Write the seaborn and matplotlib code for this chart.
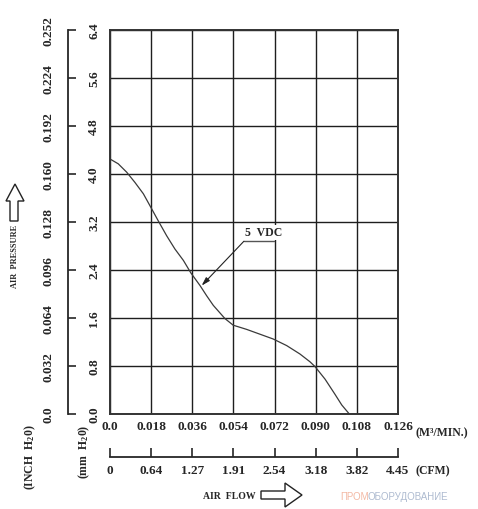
import matplotlib
matplotlib.use("Agg")
import matplotlib.pyplot as plt
from matplotlib.patches import Polygon
import seaborn as sns
import pandas as pd

# fan curve (air flow in M3/MIN, pressure in mm H2O)
flow = [0.0, 0.0036, 0.0073, 0.0109, 0.0146, 0.0175, 0.0211, 0.0248, 0.0284,
        0.0321, 0.0354, 0.0394, 0.0423, 0.0452, 0.0503, 0.0539, 0.0598, 0.0656,
        0.0714, 0.0773, 0.0831, 0.0875, 0.0897, 0.0941, 0.0984, 0.1014, 0.1047]
pressure = [4.25, 4.17, 4.03, 3.86, 3.67, 3.47, 3.22, 2.97, 2.75,
            2.56, 2.35, 2.14, 1.97, 1.81, 1.59, 1.48, 1.41, 1.33,
            1.25, 1.14, 1.0, 0.87, 0.79, 0.58, 0.33, 0.15, 0.0]

x_ticks = [0.0, 0.018, 0.036, 0.054, 0.072, 0.090, 0.108, 0.126]
x_labels = ["0.0", "0.018", "0.036", "0.054", "0.072", "0.090", "0.108", "0.126"]
cfm_labels = ["0", "0.64", "1.27", "1.91", "2.54", "3.18", "3.82", "4.45"]
y_ticks = [0.0, 0.8, 1.6, 2.4, 3.2, 4.0, 4.8, 5.6, 6.4]
y_labels = ["0.0", "0.8", "1.6", "2.4", "3.2", "4.0", "4.8", "5.6", "6.4"]
inch_labels = ["0.0", "0.032", "0.064", "0.096", "0.128", "0.160", "0.192", "0.224", "0.252"]

curve_label = "5  VDC"

W, H = 478, 510

sns.set_style("white")
plt.rcParams['font.family'] = ['Liberation Serif', 'DejaVu Serif']
plt.rcParams['font.weight'] = 'bold'
plt.rcParams['mathtext.fontset'] = 'custom'
plt.rcParams['mathtext.rm'] = 'Liberation Serif:bold'
plt.rcParams['mathtext.default'] = 'rm'


def fx(px):
    return px / W


def fy(py):
    return 1 - py / H


fig = plt.figure(figsize=(W / 100, H / 100), dpi=100)
ax = fig.add_axes([fx(110), fy(415), 288 / W, 384 / H])

df = pd.DataFrame({'flow': flow, 'pressure': pressure})
sns.lineplot(data=df, x='flow', y='pressure', ax=ax, color='#3a3a3a',
             linewidth=0.9, sort=False, estimator=None)

ax.set_xlim(0, 0.126)
ax.set_ylim(0, 6.4)
ax.set_xlabel('')
ax.set_ylabel('')
ax.set_xticks(x_ticks, labels=x_labels)
ax.set_yticks(y_ticks, labels=y_labels)
ax.grid(True, color='#1e1e1e', linewidth=1.0)
for s in ax.spines.values():
    s.set_color('#333333')
    s.set_linewidth(1.4)
ax.tick_params(axis='both', length=0, labelsize=9.5)
ax.tick_params(axis='x', pad=4)
ax.tick_params(axis='y', pad=7, labelrotation=90)
for t in ax.get_yticklabels():
    t.set_va('center')

# second pressure scale (INCH H2O)
secy = ax.secondary_yaxis(-42 / 288)
secy.set_yticks(y_ticks, labels=inch_labels)
secy.tick_params(direction='in', length=6, width=1.2, pad=10, labelsize=9.5,
                 labelrotation=90)
secy.spines['left'].set_linewidth(1.3)
for t in secy.get_yticklabels():
    t.set_va('center')

# second flow scale (CFM)
secx = ax.secondary_xaxis(-43 / 384)
secx.set_xticks(x_ticks, labels=cfm_labels)
secx.tick_params(direction='in', length=6.5, width=1.2, pad=5, labelsize=9.5)
secx.spines['bottom'].set_linewidth(1.3)

# curve label
ax.plot([0.0586, 0.0718], [2.88, 2.88], color='#555555', linewidth=1.0)
ax.annotate('', xy=(0.0401, 2.14), xytext=(0.0586, 2.88),
            arrowprops=dict(arrowstyle='-|>,head_length=0.5,head_width=0.15',
                            color='#222222', lw=0.8, shrinkA=0, shrinkB=0))
ax.text(0.0672, 2.93, curve_label, ha='center', va='bottom', fontsize=8.5,
        bbox=dict(facecolor='white', edgecolor='none', pad=1.0), zorder=5)

# unit and axis titles
fig.text(fx(416), fy(433), "(M³/MIN.)", ha='left', va='center', fontsize=8.5)
fig.text(fx(416), fy(471), "(CFM)", ha='left', va='center', fontsize=8.5)
fig.text(fx(229), fy(497), "AIR  FLOW", ha='center', va='center', fontsize=7)
fig.text(fx(15), fy(256), "AIR  PRESSURE", ha='center', va='center',
         rotation=90, fontsize=6)
fig.text(fx(30), fy(457), r"(INCH  H$_2$0)", ha='center', va='center',
         rotation=90, fontsize=8.5)
fig.text(fx(84), fy(452), r"(mm  H$_2$0)", ha='center', va='center',
         rotation=90, fontsize=8.5)

# outline arrows next to the axis titles
up = [(10, 222), (18, 222), (18, 202), (24, 202), (15, 185), (6, 202), (10, 202)]
right = [(261, 492), (285, 492), (285, 484), (302, 496), (285, 508), (285, 500), (261, 500)]
for pts in (up, right):
    fig.patches.append(Polygon([(fx(a), fy(b)) for a, b in pts], closed=True,
                               facecolor='white', edgecolor='#222222',
                               linewidth=1.0, transform=fig.transFigure))

# watermark
fig.text(fx(340), fy(497), "ПРОМ", ha='left', va='center', fontsize=7,
         color='#f3b8a3', family=['Liberation Sans', 'DejaVu Sans'], weight='normal')
fig.text(fx(367), fy(497), "ОБОРУДОВАНИЕ", ha='left', va='center', fontsize=7,
         color='#aebbd0', family=['Liberation Sans', 'DejaVu Sans'], weight='normal')

fig.savefig('out.png', dpi=100)
